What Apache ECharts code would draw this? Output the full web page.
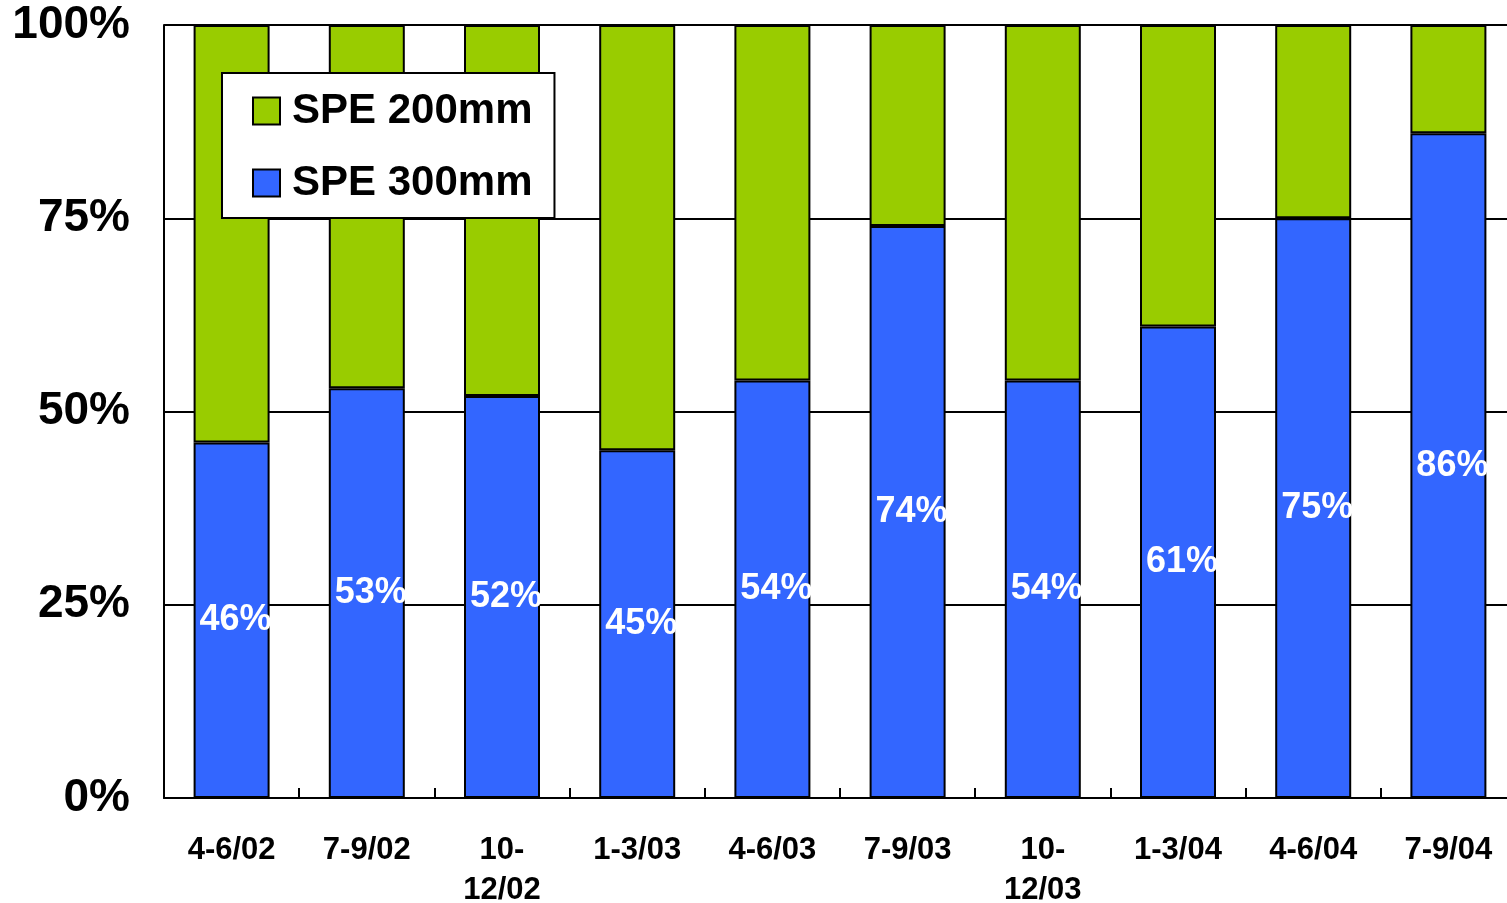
<!DOCTYPE html>
<html>
<head>
<meta charset="utf-8">
<script src="https://cdn.jsdelivr.net/npm/echarts@6/dist/echarts.min.js"></script>
<style>
  html, body { margin: 0; padding: 0; background: #fff; overflow: hidden; }
  #chart { width: 1507px; height: 903px; }
</style>
</head>
<body>
<div id="chart"></div>
<script>
// Quarterly share of wafer starts by size
const quarters = ['4-6/02', '7-9/02', '10-\n12/02', '1-3/03', '4-6/03', '7-9/03', '10-\n12/03', '1-3/04', '4-6/04', '7-9/04'];
const spe300 = [46, 53, 52, 45, 54, 74, 54, 61, 75, 86];
const spe200 = [54, 47, 48, 55, 46, 26, 46, 39, 25, 14];
const yTicks = [0, 25, 50, 75, 100];

const FONT = '"Liberation Sans", Arial, sans-serif';
const chart = echarts.init(document.getElementById('chart'), null, { renderer: 'canvas' });

chart.setOption({
  animation: false,
  backgroundColor: '#ffffff',
  grid: { left: 164, right: -9, top: 25, bottom: 105, containLabel: false, outerBoundsMode: 'none' },
  legend: {
    data: ['SPE 200mm', 'SPE 300mm'],
    orient: 'vertical',
    left: 222,
    top: 73,
    padding: [17, 22, 14, 30],
    itemWidth: 27,
    itemHeight: 27,
    itemGap: 30,
    icon: 'rect',
    backgroundColor: '#ffffff',
    borderColor: '#000000',
    borderWidth: 2,
    itemStyle: { borderColor: '#000000', borderWidth: 2 },
    textStyle: {
      fontFamily: FONT, fontWeight: 'bold', fontSize: 42, color: '#000000',
      lineHeight: 42, padding: [0, 0, 0, 7]
    }
  },
  xAxis: {
    type: 'category',
    data: quarters,
    boundaryGap: true,
    axisLine: { show: true, lineStyle: { color: '#000000', width: 2 } },
    axisTick: { show: true, inside: true, length: 10, lineStyle: { color: '#000000', width: 2 } },
    axisLabel: {
      fontFamily: FONT, fontWeight: 'bold', fontSize: 31, color: '#000000',
      lineHeight: 40, margin: 32, interval: 0
    }
  },
  yAxis: {
    type: 'value',
    min: 0,
    max: 100,
    interval: 25,
    axisLine: { show: true, lineStyle: { color: '#000000', width: 2 } },
    axisTick: { show: false },
    splitLine: { show: true, lineStyle: { color: '#000000', width: 2 } },
    axisLabel: {
      fontFamily: FONT, fontWeight: 'bold', fontSize: 46, color: '#000000',
      margin: 34,
      formatter: v => (yTicks.includes(v) ? v + '%' : '')
    }
  },
  series: [
    {
      name: 'SPE 300mm',
      type: 'bar',
      stack: 'share',
      barWidth: 76,
      data: spe300,
      itemStyle: { color: '#3366FF', borderColor: '#000000', borderWidth: 2 },
      label: {
        show: true,
        position: 'inside',
        offset: [4, 0],
        formatter: p => p.value + '%',
        fontFamily: FONT, fontWeight: 'bold', fontSize: 36, color: '#ffffff'
      }
    },
    {
      name: 'SPE 200mm',
      type: 'bar',
      stack: 'share',
      barWidth: 76,
      data: spe200,
      itemStyle: { color: '#99CC00', borderColor: '#000000', borderWidth: 2 }
    }
  ]
});
</script>
</body>
</html>
